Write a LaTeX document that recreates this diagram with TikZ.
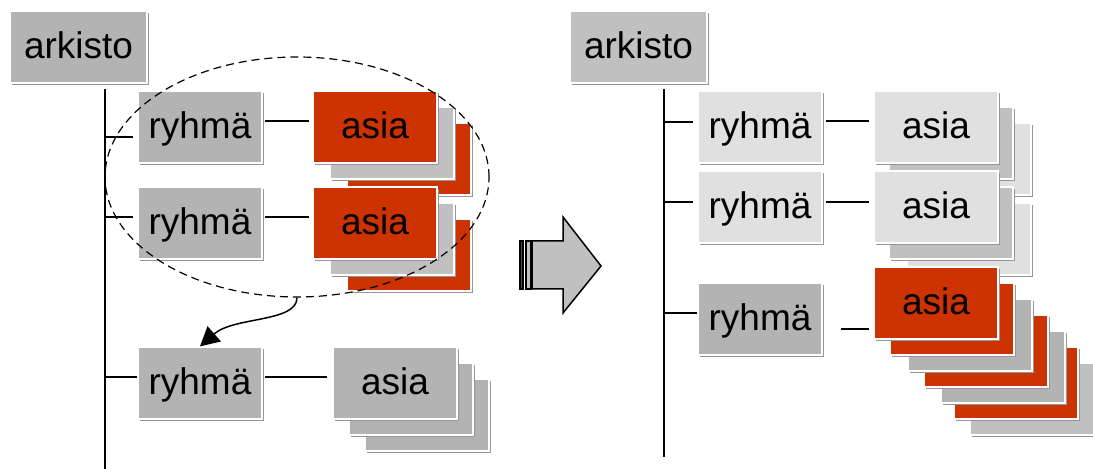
\documentclass[tikz,border=0pt]{standalone}
\usepackage{fontspec}
\setmainfont{Liberation Sans}
\usetikzlibrary{arrows.meta,shadows,shapes.geometric}
\definecolor{tiili}{RGB}{204,51,0}
\definecolor{harmaa}{RGB}{179,179,179}
\definecolor{vaalea}{RGB}{192,192,192}
\definecolor{haalea}{RGB}{224,224,224}
\definecolor{varjo}{RGB}{150,150,150}

\begin{document}
\begin{tikzpicture}[x=0.5pt,y=-0.5pt,
	kortti/.style={draw=white,line width=0.6pt,drop shadow={shadow xshift=1pt,shadow yshift=-1pt,fill=varjo,opacity=1}},
	laatikko/.style={kortti,minimum width=62pt,minimum height=36pt,inner sep=0pt,font=\fontsize{18.5}{20}\selectfont,text height=14pt,text depth=2pt},
	viiva/.style={line width=1pt}]
	\useasboundingbox (0,0) rectangle (1093,469);
	% vasen puoli
	\node[laatikko,fill=harmaa,minimum width=68.5pt] (ark1) at (78.5,47) {arkisto};
	\coordinate (runko1) at (105,89);
	\coordinate (runko1b) at (105,469);
	\draw[viiva] (runko1)--(runko1b);
	\node[laatikko,fill=harmaa] (r1) at (200,127) {ryhmä};
	\node[laatikko,fill=harmaa] (r2) at (200,223) {ryhmä};
	\node[laatikko,fill=harmaa] (r3) at (200,383) {ryhmä};
	\foreach \x/\y/\c in {347/123/tiili,330/107/vaalea}
		\path[kortti,fill=\c] (\x,\y) rectangle +(124,72);
	\node[laatikko,fill=tiili] (a1) at (375,127) {asia};
	\foreach \x/\y/\c in {347/219/tiili,330/203/vaalea}
		\path[kortti,fill=\c] (\x,\y) rectangle +(124,72);
	\node[laatikko,fill=tiili] (a2) at (375,223) {asia};
	\foreach \x/\y in {365/379,349/363}
		\path[kortti,fill=harmaa] (\x,\y) rectangle +(124,72);
	\node[laatikko,fill=harmaa] (a3) at (395,383) {asia};
	\coordinate (h1) at (133,137);
	\coordinate (h2) at (133,217);
	\coordinate (h3) at ([yshift=3pt]r3.west);
	\foreach \h in {h1,h2,h3} \draw[viiva] (\h -| runko1)--(\h);
	\draw[viiva] ([xshift=1pt,yshift=3pt]r1.east)--([xshift=-1.5pt,yshift=3pt]a1.west);
	\draw[viiva] ([xshift=1pt,yshift=3pt]r2.east)--([xshift=-1.5pt,yshift=3pt]a2.west);
	\draw[viiva] ([xshift=1pt,yshift=3pt]r3.east)--([xshift=-2.5pt,yshift=3pt]a3.west);
	\node[ellipse,draw,dash pattern=on 4pt off 2.5pt,line width=0.6pt,minimum width=192pt,minimum height=120pt,inner sep=0pt] (grp) at (297,177) {};
	\draw[line width=0.75pt,-{Triangle[length=9.5pt,width=10pt]}] (grp.south) .. controls +(0,25) and +(34,-30) .. (r3.north);
	% siirtonuoli
	\draw[line width=0.75pt,fill=vaalea] (532,241)--(563,241)--(563,217)--(601,266)--(563,313)--(563,289)--(532,289)--cycle;
	\draw[line width=0.75pt,fill=black!70] (520,241) rectangle (523,289);
	\draw[line width=0.75pt,fill=vaalea] (526,241) rectangle (531,289);
	% oikea puoli
	\node[laatikko,fill=vaalea,minimum width=68.5pt] (ark2) at (638.5,47) {arkisto};
	\coordinate (runko2) at (664,89);
	\coordinate (runko2b) at (664,457);
	\draw[viiva] (runko2)--(runko2b);
	\node[laatikko,fill=haalea] (R1) at (760,127) {ryhmä};
	\node[laatikko,fill=haalea] (R2) at (760,207) {ryhmä};
	\node[laatikko,fill=harmaa] (R3) at (760,319) {ryhmä};
	\foreach \x/\y/\c in {907/123/haalea,889/107/vaalea}
		\path[kortti,fill=\c] (\x,\y) rectangle +(124,72);
	\node[laatikko,fill=haalea] (A1) at (936,127) {asia};
	\foreach \x/\y/\c in {907/203/haalea,889/187/vaalea}
		\path[kortti,fill=\c] (\x,\y) rectangle +(124,72);
	\node[laatikko,fill=haalea] (A2) at (936,207) {asia};
	\foreach \x/\y/\c in {970/363/vaalea,954/347/tiili,941/331/harmaa,924/315/tiili,908/299/harmaa,890/283/tiili}
		\path[kortti,fill=\c] (\x,\y) rectangle +(124,72);
	\node[laatikko,fill=tiili] (A3) at (936,303) {asia};
	\coordinate (k1) at (693,122);
	\coordinate (k2) at (693,202);
	\coordinate (k3) at ([yshift=3pt]R3.west);
	\foreach \k in {k1,k2,k3} \draw[viiva] (\k -| runko2)--(\k);
	\draw[viiva] ([xshift=1.5pt,yshift=3pt]R1.east)--([xshift=-2pt,yshift=3pt]A1.west);
	\draw[viiva] ([xshift=1.5pt,yshift=2.5pt]R2.east)--([xshift=-2pt,yshift=2.5pt]A2.west);
	\draw[viiva] ([xshift=9pt,yshift=-5pt]R3.east)--([xshift=-2pt,yshift=-13pt]A3.west);
\end{tikzpicture}
\end{document}
